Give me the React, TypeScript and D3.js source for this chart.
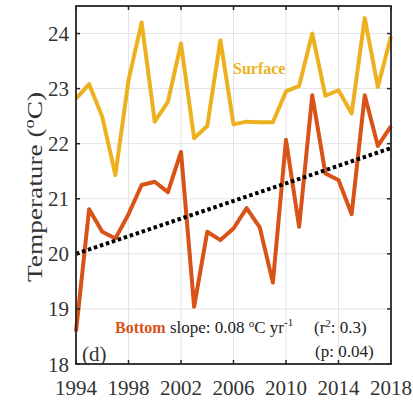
import * as d3 from "d3";

const years = d3.range(1994, 2019);
const surface = [22.82, 23.08, 22.49, 21.43, 23.15, 24.2, 22.4, 22.76, 23.82, 22.1, 22.32, 23.88, 22.35, 22.4, 22.39, 22.39, 22.95, 23.05, 24.0, 22.87, 22.97, 22.55, 24.28, 23.03, 23.95];
const bottom = [18.59, 20.81, 20.4, 20.28, 20.72, 21.25, 21.31, 21.12, 21.85, 19.04, 20.4, 20.25, 20.46, 20.83, 20.48, 19.48, 22.07, 20.49, 22.88, 21.46, 21.34, 20.72, 22.88, 21.96, 22.32];
const trendYears = [1994, 2018];
const trendValues = [20.0, 21.92];
const xTicks = [1994, 1998, 2002, 2006, 2010, 2014, 2018];
const yTicks = [18, 19, 20, 21, 22, 23, 24];

const SURF = "#EDB120";
const BOT = "#D95319";
const AXIS = "#262626";
const FONT = "'Liberation Serif', 'DejaVu Serif', serif";

export default function App() {
  const left = 76, right = 391, top = 6, bottomY = 364;
  const x = d3.scaleLinear().domain([1994, 2018]).range([left, right]);
  const y = d3.scaleLinear().domain([18, 24.5]).range([bottomY, top]);

  const line = d3.line<[number, number]>().x(d => x(d[0])).y(d => y(d[1]));
  const surfPath = line(years.map((yr, i) => [yr, surface[i]]));
  const botPath = line(years.map((yr, i) => [yr, bottom[i]]));
  const trendPath = line(trendYears.map((yr, i) => [yr, trendValues[i]]));

  return (
    <svg width={413} height={400} style={{ position: "absolute", left: 0, top: 0, background: "#fff" }} fontFamily={FONT}>
      {/* grid */}
      {xTicks.slice(1, -1).map(t => (
        <line key={"gx" + t} x1={x(t)} x2={x(t)} y1={top} y2={bottomY} stroke="#e4e4e4" strokeWidth={1} />
      ))}
      {yTicks.slice(1).map(t => (
        <line key={"gy" + t} x1={left} x2={right} y1={y(t)} y2={y(t)} stroke="#e4e4e4" strokeWidth={1} />
      ))}

      {/* series */}
      <path d={surfPath!} fill="none" stroke={SURF} strokeWidth={4} strokeLinejoin="round" />
      <path d={botPath!} fill="none" stroke={BOT} strokeWidth={4} strokeLinejoin="round" />
      <path d={trendPath!} fill="none" stroke="#000" strokeWidth={4} strokeDasharray="3.5 2.8" />

      {/* box + ticks */}
      <rect x={left} y={top} width={right - left} height={bottomY - top} fill="none" stroke={AXIS} strokeWidth={1.8} />
      {xTicks.map(t => (
        <g key={"tx" + t}>
          <line x1={x(t)} x2={x(t)} y1={bottomY} y2={bottomY - 4} stroke={AXIS} strokeWidth={1.5} />
          <line x1={x(t)} x2={x(t)} y1={top} y2={top + 4} stroke={AXIS} strokeWidth={1.5} />
          <text x={x(t)} y={395} textAnchor="middle" fontSize={21} fill="#333">{t}</text>
        </g>
      ))}
      {yTicks.map(t => (
        <g key={"ty" + t}>
          <line x1={left} x2={left + 4} y1={y(t)} y2={y(t)} stroke={AXIS} strokeWidth={1.5} />
          <line x1={right} x2={right - 4} y1={y(t)} y2={y(t)} stroke={AXIS} strokeWidth={1.5} />
          <text x={69} y={y(t) + 7.5} textAnchor="end" fontSize={21} fill="#333">{t}</text>
        </g>
      ))}

      {/* y label */}
      <text transform="translate(42,187) rotate(-90)" textAnchor="middle" fontSize={21} fill="#333"
        textLength={190} lengthAdjust="spacingAndGlyphs">
        Temperature (<tspan fontSize={14} dy={-8}>o</tspan><tspan dy={8}>C)</tspan>
      </text>

      {/* annotations */}
      <text x={233} y={74} fontSize={16} fontWeight="bold" fill={SURF}>Surface</text>
      <text x={115} y={333} fontSize={17} fill="#222">
        <tspan fontWeight="bold" fill={BOT} fontSize={16}>Bottom</tspan>
        <tspan> slope: 0.08 </tspan>
        <tspan fontSize={11} dy={-6}>o</tspan>
        <tspan dy={6}>C yr</tspan>
        <tspan fontSize={11} dy={-7}>-1</tspan>
      </text>
      <text x={314} y={333} fontSize={17} fill="#222">
        (r<tspan fontSize={11} dy={-6}>2</tspan><tspan dy={6}>: 0.3)</tspan>
      </text>
      <text x={315} y={357} fontSize={17} fill="#222">(p: 0.04)</text>
      <text x={82} y={361} fontSize={21} fill="#333">(d)</text>
    </svg>
  );
}
